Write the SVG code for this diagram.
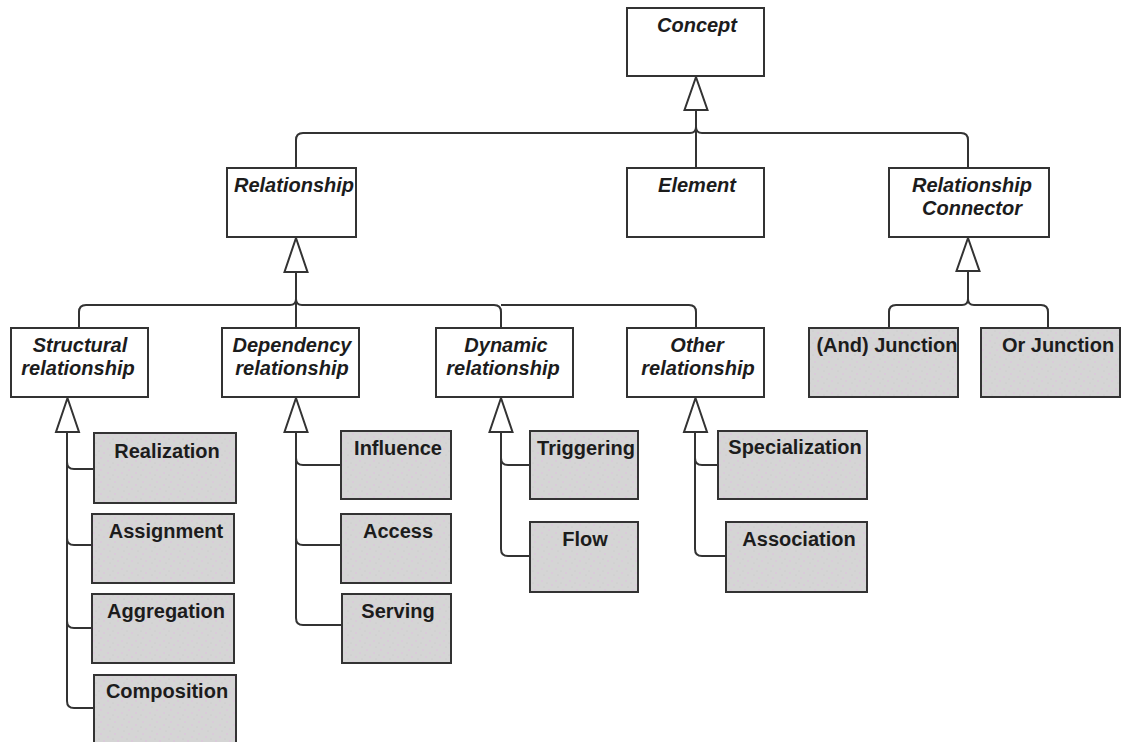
<svg xmlns="http://www.w3.org/2000/svg" width="1126" height="742" viewBox="0 0 1126 742">
  <style>
    .abs rect { fill: #ffffff; stroke: #333333; stroke-width: 2; }
    .con rect { fill: url(#stipple); stroke: #333333; stroke-width: 2; }
    text { font-family: "Liberation Sans", Arial, Helvetica, sans-serif; font-size: 20px; font-weight: bold; fill: #1c1c1c; text-anchor: middle; }
    .abs text { font-style: italic; }
    .wire { fill: none; stroke: #333333; stroke-width: 2; }
    .gen { fill: #ffffff; stroke: #333333; stroke-width: 2; stroke-linejoin: miter; }
  </style>
  <defs>
    <!-- light grey fill with faint pink speckle -->
    <pattern id="stipple" width="14" height="12" patternUnits="userSpaceOnUse">
      <rect width="14" height="12" fill="#d5d5d5"/>
      <circle cx="3" cy="2" r="0.7" fill="#e6b4e6" opacity="0.8"/>
      <circle cx="10" cy="5" r="0.7" fill="#e6b4e6" opacity="0.8"/>
      <circle cx="6" cy="9" r="0.7" fill="#e6b4e6" opacity="0.8"/>
      <circle cx="12" cy="11" r="0.6" fill="#c8c8c8"/>
      <circle cx="1" cy="7" r="0.6" fill="#c8c8c8"/>
    </pattern>
  </defs>

  <rect width="1126" height="742" fill="#ffffff"/>

  <!-- generalization lines -->
  <g id="connectors">
    <!-- Concept tree -->
    <path class="wire" d="M696,110 V168"/>
    <path class="wire" d="M296,168 V140 Q296,133 303,133 H690 Q696,133 696,127"/>
    <path class="wire" d="M968,168 V140 Q968,133 961,133 H702 Q696,133 696,127"/>
    <polygon class="gen" points="696,77 684.5,110 707.5,110"/>

    <!-- Relationship tree -->
    <path class="wire" d="M296,272 V328"/>
    <path class="wire" d="M79,328 V312 Q79,305 86,305 H290 Q296,305 296,299"/>
    <path class="wire" d="M296,299 Q296,305 302,305 H494 Q501,305 501,312 V328"/>
    <path class="wire" d="M501,305 H689 Q696,305 696,312 V328"/>
    <polygon class="gen" points="296,238 284.5,272 307.5,272"/>

    <!-- Relationship Connector tree -->
    <path class="wire" d="M968,271 V299"/>
    <path class="wire" d="M889,328 V312 Q889,305 896,305 H962 Q968,305 968,299"/>
    <path class="wire" d="M1048,328 V312 Q1048,305 1041,305 H974 Q968,305 968,299"/>
    <polygon class="gen" points="968,238 956.5,271 979.5,271"/>

    <!-- Structural relationship children -->
    <path class="wire" d="M67,432 V701 Q67,708 74,708 H94"/>
    <path class="wire" d="M67,462 Q67,469 74,469 H94"/>
    <path class="wire" d="M67,538 Q67,545 74,545 H92"/>
    <path class="wire" d="M67,621 Q67,628 74,628 H92"/>
    <polygon class="gen" points="67.5,398 56,432 79,432"/>

    <!-- Dependency relationship children -->
    <path class="wire" d="M296,432 V618 Q296,625 303,625 H342"/>
    <path class="wire" d="M296,458 Q296,465 303,465 H341"/>
    <path class="wire" d="M296,538 Q296,545 303,545 H341"/>
    <polygon class="gen" points="296,398 284.5,432 307.5,432"/>

    <!-- Dynamic relationship children -->
    <path class="wire" d="M501,432 V549 Q501,556 508,556 H530"/>
    <path class="wire" d="M501,458 Q501,465 508,465 H530"/>
    <polygon class="gen" points="501,398 489.5,432 512.5,432"/>

    <!-- Other relationship children -->
    <path class="wire" d="M695,432 V549 Q695,556 702,556 H726"/>
    <path class="wire" d="M695,458 Q695,465 702,465 H718"/>
    <polygon class="gen" points="695.5,398 684,432 707,432"/>
  </g>

  <!-- abstract concepts -->
  <g id="concept" class="abs">
    <rect x="627" y="8" width="137" height="68"/>
    <text x="697" y="32">Concept</text>
  </g>
  <g id="relationship" class="abs">
    <rect x="227" y="168" width="129" height="69"/>
    <text x="294" y="192">Relationship</text>
  </g>
  <g id="element" class="abs">
    <rect x="627" y="168" width="137" height="69"/>
    <text x="697" y="192">Element</text>
  </g>
  <g id="relationship-connector" class="abs">
    <rect x="889" y="168" width="160" height="69"/>
    <text x="972" y="192">Relationship</text>
    <text x="972" y="215">Connector</text>
  </g>
  <g id="structural-relationship" class="abs">
    <rect x="11" y="328" width="137" height="69"/>
    <text x="80" y="352">Structural</text>
    <text x="78" y="375">relationship</text>
  </g>
  <g id="dependency-relationship" class="abs">
    <rect x="222" y="328" width="137" height="69"/>
    <text x="292" y="352">Dependency</text>
    <text x="292" y="375">relationship</text>
  </g>
  <g id="dynamic-relationship" class="abs">
    <rect x="436" y="328" width="137" height="69"/>
    <text x="506" y="352">Dynamic</text>
    <text x="503" y="375">relationship</text>
  </g>
  <g id="other-relationship" class="abs">
    <rect x="627" y="328" width="137" height="69"/>
    <text x="697" y="352">Other</text>
    <text x="698" y="375">relationship</text>
  </g>

  <!-- concrete relationship types -->
  <g id="and-junction" class="con">
    <rect x="809" y="328" width="149" height="69"/>
    <text x="887" y="352">(And) Junction</text>
  </g>
  <g id="or-junction" class="con">
    <rect x="981" y="328" width="139" height="69"/>
    <text x="1058" y="352">Or Junction</text>
  </g>

  <g id="realization" class="con">
    <rect x="94" y="433" width="142" height="70"/>
    <text x="167" y="458">Realization</text>
  </g>
  <g id="assignment" class="con">
    <rect x="92" y="514" width="142" height="69"/>
    <text x="166" y="538">Assignment</text>
  </g>
  <g id="aggregation" class="con">
    <rect x="92" y="594" width="142" height="69"/>
    <text x="166" y="618">Aggregation</text>
  </g>
  <g id="composition" class="con">
    <rect x="94" y="675" width="142" height="69"/>
    <text x="167" y="698">Composition</text>
  </g>

  <g id="influence" class="con">
    <rect x="341" y="431" width="110" height="68"/>
    <text x="398" y="455">Influence</text>
  </g>
  <g id="access" class="con">
    <rect x="341" y="514" width="110" height="69"/>
    <text x="398" y="538">Access</text>
  </g>
  <g id="serving" class="con">
    <rect x="342" y="594" width="109" height="69"/>
    <text x="398" y="618">Serving</text>
  </g>

  <g id="triggering" class="con">
    <rect x="530" y="431" width="108" height="68"/>
    <text x="586" y="455">Triggering</text>
  </g>
  <g id="flow" class="con">
    <rect x="530" y="522" width="108" height="70"/>
    <text x="585" y="546">Flow</text>
  </g>

  <g id="specialization" class="con">
    <rect x="718" y="431" width="149" height="68"/>
    <text x="795" y="454">Specialization</text>
  </g>
  <g id="association" class="con">
    <rect x="726" y="522" width="141" height="70"/>
    <text x="799" y="546">Association</text>
  </g>
</svg>
